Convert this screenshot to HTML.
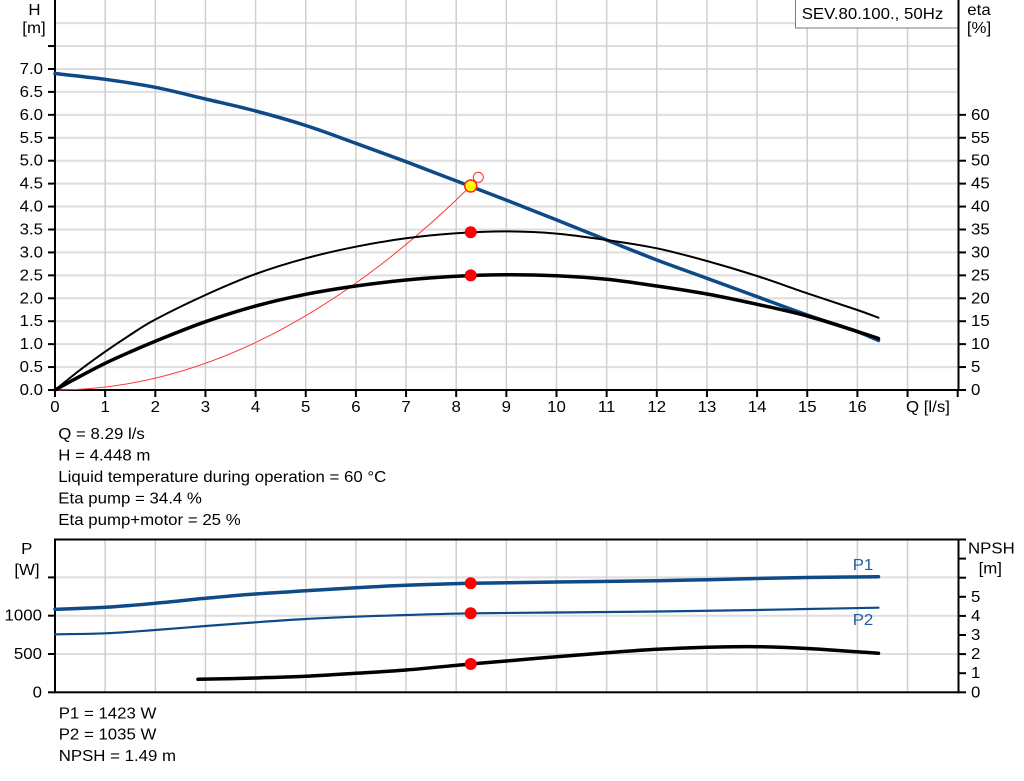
<!DOCTYPE html>
<html><head><meta charset="utf-8">
<style>
html,body{margin:0;padding:0;background:#fff;}
svg{display:block;}
text{font-family:"Liberation Sans",Arial,sans-serif;font-size:15.3px;fill:#000;transform-box:fill-box;}
.l{transform-origin:left center;transform:scaleX(1.1);}
.r{transform-origin:right center;transform:scaleX(1.1);}
.c{transform-origin:center center;transform:scaleX(1.1);}
.gh{stroke:#dedede;stroke-width:2;}
.gv{stroke:#cfcfcf;stroke-width:1.5;}
.ax{stroke:#000;stroke-width:2;fill:none;}
.tk{stroke:#000;stroke-width:2;}
</style></head>
<body>
<svg id="chart" width="1024" height="781" viewBox="0 0 1024 781" xmlns="http://www.w3.org/2000/svg">
<rect x="0" y="0" width="1024" height="781" fill="#fff"/>

<!-- ===== TOP CHART GRID ===== -->
<g class="gh">
<line x1="55" x2="958" y1="367.07" y2="367.07"/>
<line x1="55" x2="958" y1="344.14" y2="344.14"/>
<line x1="55" x2="958" y1="321.21" y2="321.21"/>
<line x1="55" x2="958" y1="298.28" y2="298.28"/>
<line x1="55" x2="958" y1="275.35" y2="275.35"/>
<line x1="55" x2="958" y1="252.42" y2="252.42"/>
<line x1="55" x2="958" y1="229.49" y2="229.49"/>
<line x1="55" x2="958" y1="206.56" y2="206.56"/>
<line x1="55" x2="958" y1="183.63" y2="183.63"/>
<line x1="55" x2="958" y1="160.7" y2="160.7"/>
<line x1="55" x2="958" y1="137.77" y2="137.77"/>
<line x1="55" x2="958" y1="114.84" y2="114.84"/>
<line x1="55" x2="958" y1="91.91" y2="91.91"/>
<line x1="55" x2="958" y1="68.98" y2="68.98"/>
<line x1="55" x2="958" y1="46.05" y2="46.05"/>
<line x1="55" x2="958" y1="23.12" y2="23.12"/>
</g>
<g class="gv">
<line y1="0" y2="390" x1="105.15" x2="105.15"/>
<line y1="0" y2="390" x1="155.3" x2="155.3"/>
<line y1="0" y2="390" x1="205.45" x2="205.45"/>
<line y1="0" y2="390" x1="255.6" x2="255.6"/>
<line y1="0" y2="390" x1="305.75" x2="305.75"/>
<line y1="0" y2="390" x1="355.9" x2="355.9"/>
<line y1="0" y2="390" x1="406.05" x2="406.05"/>
<line y1="0" y2="390" x1="456.2" x2="456.2"/>
<line y1="0" y2="390" x1="506.35" x2="506.35"/>
<line y1="0" y2="390" x1="556.5" x2="556.5"/>
<line y1="0" y2="390" x1="606.65" x2="606.65"/>
<line y1="0" y2="390" x1="656.8" x2="656.8"/>
<line y1="0" y2="390" x1="706.95" x2="706.95"/>
<line y1="0" y2="390" x1="757.1" x2="757.1"/>
<line y1="0" y2="390" x1="807.25" x2="807.25"/>
<line y1="0" y2="390" x1="857.4" x2="857.4"/>
<line y1="0" y2="390" x1="907.55" x2="907.55"/>
</g>

<!-- legend box -->
<rect x="795.5" y="-1" width="163" height="29" fill="#fff" stroke="#7a7a7a" stroke-width="1"/>
<text class="l" x="801.7" y="19">SEV.80.100., 50Hz</text>

<!-- top axes -->
<line class="ax" x1="55" y1="0" x2="55" y2="391"/>
<line class="ax" x1="958.5" y1="0" x2="958.5" y2="391"/>
<line class="ax" x1="54" y1="390" x2="959.5" y2="390"/>

<!-- left ticks -->
<g class="tk">
<line x1="48" x2="55" y1="390" y2="390"/>
<line x1="48" x2="55" y1="367.07" y2="367.07"/>
<line x1="48" x2="55" y1="344.14" y2="344.14"/>
<line x1="48" x2="55" y1="321.21" y2="321.21"/>
<line x1="48" x2="55" y1="298.28" y2="298.28"/>
<line x1="48" x2="55" y1="275.35" y2="275.35"/>
<line x1="48" x2="55" y1="252.42" y2="252.42"/>
<line x1="48" x2="55" y1="229.49" y2="229.49"/>
<line x1="48" x2="55" y1="206.56" y2="206.56"/>
<line x1="48" x2="55" y1="183.63" y2="183.63"/>
<line x1="48" x2="55" y1="160.7" y2="160.7"/>
<line x1="48" x2="55" y1="137.77" y2="137.77"/>
<line x1="48" x2="55" y1="114.84" y2="114.84"/>
<line x1="48" x2="55" y1="91.91" y2="91.91"/>
<line x1="48" x2="55" y1="68.98" y2="68.98"/>
<line x1="48" x2="55" y1="46.05" y2="46.05"/>
</g>
<g>
<text class="r" x="43" y="395" text-anchor="end">0.0</text>
<text class="r" x="43" y="372.07" text-anchor="end">0.5</text>
<text class="r" x="43" y="349.14" text-anchor="end">1.0</text>
<text class="r" x="43" y="326.21" text-anchor="end">1.5</text>
<text class="r" x="43" y="303.28" text-anchor="end">2.0</text>
<text class="r" x="43" y="280.35" text-anchor="end">2.5</text>
<text class="r" x="43" y="257.42" text-anchor="end">3.0</text>
<text class="r" x="43" y="234.49" text-anchor="end">3.5</text>
<text class="r" x="43" y="211.56" text-anchor="end">4.0</text>
<text class="r" x="43" y="188.63" text-anchor="end">4.5</text>
<text class="r" x="43" y="165.7" text-anchor="end">5.0</text>
<text class="r" x="43" y="142.77" text-anchor="end">5.5</text>
<text class="r" x="43" y="119.84" text-anchor="end">6.0</text>
<text class="r" x="43" y="96.91" text-anchor="end">6.5</text>
<text class="r" x="43" y="73.98" text-anchor="end">7.0</text>
</g>
<text class="c" x="34.5" y="15" text-anchor="middle">H</text>
<text class="c" x="34" y="33" text-anchor="middle">[m]</text>

<!-- right ticks (eta) -->
<g class="tk">
<line x1="958" x2="966" y1="390" y2="390"/>
<line x1="958" x2="966" y1="367.07" y2="367.07"/>
<line x1="958" x2="966" y1="344.14" y2="344.14"/>
<line x1="958" x2="966" y1="321.21" y2="321.21"/>
<line x1="958" x2="966" y1="298.28" y2="298.28"/>
<line x1="958" x2="966" y1="275.35" y2="275.35"/>
<line x1="958" x2="966" y1="252.42" y2="252.42"/>
<line x1="958" x2="966" y1="229.49" y2="229.49"/>
<line x1="958" x2="966" y1="206.56" y2="206.56"/>
<line x1="958" x2="966" y1="183.63" y2="183.63"/>
<line x1="958" x2="966" y1="160.7" y2="160.7"/>
<line x1="958" x2="966" y1="137.77" y2="137.77"/>
<line x1="958" x2="966" y1="114.84" y2="114.84"/>
</g>
<g>
<text class="l" x="971" y="395">0</text>
<text class="l" x="971" y="372.07">5</text>
<text class="l" x="971" y="349.14">10</text>
<text class="l" x="971" y="326.21">15</text>
<text class="l" x="971" y="303.28">20</text>
<text class="l" x="971" y="280.35">25</text>
<text class="l" x="971" y="257.42">30</text>
<text class="l" x="971" y="234.49">35</text>
<text class="l" x="971" y="211.56">40</text>
<text class="l" x="971" y="188.63">45</text>
<text class="l" x="971" y="165.7">50</text>
<text class="l" x="971" y="142.77">55</text>
<text class="l" x="971" y="119.84">60</text>
</g>
<text class="c" x="979" y="15" text-anchor="middle">eta</text>
<text class="c" x="979" y="33" text-anchor="middle">[%]</text>

<!-- x ticks -->
<g class="tk">
<line y1="390" y2="397" x1="55" x2="55"/>
<line y1="390" y2="397" x1="105.15" x2="105.15"/>
<line y1="390" y2="397" x1="155.3" x2="155.3"/>
<line y1="390" y2="397" x1="205.45" x2="205.45"/>
<line y1="390" y2="397" x1="255.6" x2="255.6"/>
<line y1="390" y2="397" x1="305.75" x2="305.75"/>
<line y1="390" y2="397" x1="355.9" x2="355.9"/>
<line y1="390" y2="397" x1="406.05" x2="406.05"/>
<line y1="390" y2="397" x1="456.2" x2="456.2"/>
<line y1="390" y2="397" x1="506.35" x2="506.35"/>
<line y1="390" y2="397" x1="556.5" x2="556.5"/>
<line y1="390" y2="397" x1="606.65" x2="606.65"/>
<line y1="390" y2="397" x1="656.8" x2="656.8"/>
<line y1="390" y2="397" x1="706.95" x2="706.95"/>
<line y1="390" y2="397" x1="757.1" x2="757.1"/>
<line y1="390" y2="397" x1="807.25" x2="807.25"/>
<line y1="390" y2="397" x1="857.4" x2="857.4"/>
<line y1="390" y2="397" x1="907.55" x2="907.55"/>
<line y1="390" y2="397" x1="957.7" x2="957.7"/>
</g>
<g>
<text class="c" x="55" y="412" text-anchor="middle">0</text>
<text class="c" x="105.15" y="412" text-anchor="middle">1</text>
<text class="c" x="155.3" y="412" text-anchor="middle">2</text>
<text class="c" x="205.45" y="412" text-anchor="middle">3</text>
<text class="c" x="255.6" y="412" text-anchor="middle">4</text>
<text class="c" x="305.75" y="412" text-anchor="middle">5</text>
<text class="c" x="355.9" y="412" text-anchor="middle">6</text>
<text class="c" x="406.05" y="412" text-anchor="middle">7</text>
<text class="c" x="456.2" y="412" text-anchor="middle">8</text>
<text class="c" x="506.35" y="412" text-anchor="middle">9</text>
<text class="c" x="556.5" y="412" text-anchor="middle">10</text>
<text class="c" x="606.65" y="412" text-anchor="middle">11</text>
<text class="c" x="656.8" y="412" text-anchor="middle">12</text>
<text class="c" x="706.95" y="412" text-anchor="middle">13</text>
<text class="c" x="757.1" y="412" text-anchor="middle">14</text>
<text class="c" x="807.25" y="412" text-anchor="middle">15</text>
<text class="c" x="857.4" y="412" text-anchor="middle">16</text>
</g>
<text class="l" x="906" y="412">Q [l/s]</text>

<!-- top curves -->
<path d="M55,390 Q262.85,390 470.7,186" fill="none" stroke="#ff3a3a" stroke-width="1"/>
<polyline class="sm" fill="none" stroke="#0d4a87" stroke-width="3.5" stroke-linejoin="round" stroke-linecap="round"
 points="55,73.5 105.15,79.3 155.3,87.3 205.45,99 255.6,111 305.75,125.5 355.9,143.3 406.05,161.7 456.2,180.9 506.35,200.1 556.5,219.9 606.65,240 656.8,260 706.95,278.3 757.1,296.7 807.25,315 857.4,331.7 878.5,340.5"/>
<polyline class="sm" fill="none" stroke="#000" stroke-width="2" stroke-linejoin="round" stroke-linecap="round"
 points="55,390 80,370 105.15,351.7 130,335 155.3,319.5 205.45,295 255.6,274 305.75,258.3 355.9,246.7 406.05,238.3 456.2,233.3 506.35,231.4 556.5,233.6 606.65,240 656.8,248.3 706.95,261 757.1,276 807.25,293.3 857.4,310 878.5,317.7"/>
<polyline class="sm" fill="none" stroke="#000" stroke-width="3.5" stroke-linejoin="round" stroke-linecap="round"
 points="55,390 80,376.3 105.15,363.3 130,352 155.3,341.2 205.45,321.7 255.6,306 305.75,294.3 355.9,286 406.05,280 456.2,276.3 506.35,274.8 556.5,275.8 606.65,279.3 656.8,286 706.95,294 757.1,304.3 807.25,316 857.4,331.5 878.5,338.5"/>
<circle cx="478.3" cy="177.3" r="5" fill="none" stroke="#ff3030" stroke-width="1"/>
<circle cx="470.7" cy="186" r="6" fill="#ffff00" stroke="#ff2020" stroke-width="1.5"/>
<circle cx="470.7" cy="232.2" r="6" fill="#ff0000"/>
<circle cx="470.7" cy="275.4" r="6" fill="#ff0000"/>

<!-- info text -->
<text class="l" x="58.3" y="439">Q = 8.29 l/s</text>
<text class="l" x="58.3" y="460.5">H = 4.448 m</text>
<text class="l" x="58.3" y="482">Liquid temperature during operation = 60 °C</text>
<text class="l" x="58.3" y="503.5">Eta pump = 34.4 %</text>
<text class="l" x="58.3" y="525">Eta pump+motor = 25 %</text>

<!-- ===== BOTTOM CHART ===== -->
<g class="gh">
<line x1="55" x2="958" y1="654" y2="654"/>
<line x1="55" x2="958" y1="615.7" y2="615.7"/>
<line x1="55" x2="958" y1="577.4" y2="577.4"/>
</g>
<g class="gv">
<line y1="540" y2="692" x1="105.15" x2="105.15"/>
<line y1="540" y2="692" x1="155.3" x2="155.3"/>
<line y1="540" y2="692" x1="205.45" x2="205.45"/>
<line y1="540" y2="692" x1="255.6" x2="255.6"/>
<line y1="540" y2="692" x1="305.75" x2="305.75"/>
<line y1="540" y2="692" x1="355.9" x2="355.9"/>
<line y1="540" y2="692" x1="406.05" x2="406.05"/>
<line y1="540" y2="692" x1="456.2" x2="456.2"/>
<line y1="540" y2="692" x1="506.35" x2="506.35"/>
<line y1="540" y2="692" x1="556.5" x2="556.5"/>
<line y1="540" y2="692" x1="606.65" x2="606.65"/>
<line y1="540" y2="692" x1="656.8" x2="656.8"/>
<line y1="540" y2="692" x1="706.95" x2="706.95"/>
<line y1="540" y2="692" x1="757.1" x2="757.1"/>
<line y1="540" y2="692" x1="807.25" x2="807.25"/>
<line y1="540" y2="692" x1="857.4" x2="857.4"/>
<line y1="540" y2="692" x1="907.55" x2="907.55"/>
</g>
<rect class="ax" x="55" y="539.5" width="903.5" height="152.8"/>

<g class="tk">
<line x1="48" x2="55" y1="692.3" y2="692.3"/>
<line x1="48" x2="55" y1="654" y2="654"/>
<line x1="48" x2="55" y1="615.7" y2="615.7"/>
<line x1="48" x2="55" y1="577.4" y2="577.4"/>
<line x1="958" x2="966" y1="692.3" y2="692.3"/>
<line x1="958" x2="966" y1="673.2" y2="673.2"/>
<line x1="958" x2="966" y1="654.1" y2="654.1"/>
<line x1="958" x2="966" y1="635" y2="635"/>
<line x1="958" x2="966" y1="615.9" y2="615.9"/>
<line x1="958" x2="966" y1="596.8" y2="596.8"/>
<line x1="958" x2="966" y1="577.7" y2="577.7"/>
<line x1="958" x2="966" y1="558.6" y2="558.6"/>
<line x1="958" x2="966" y1="539.5" y2="539.5"/>
</g>
<text class="r" x="42" y="697.3" text-anchor="end">0</text>
<text class="r" x="42" y="659" text-anchor="end">500</text>
<text class="r" x="42" y="620.7" text-anchor="end">1000</text>
<text class="c" x="26.7" y="554" text-anchor="middle">P</text>
<text class="c" x="27" y="575" text-anchor="middle">[W]</text>

<text class="l" x="971" y="697.3">0</text>
<text class="l" x="971" y="678.2">1</text>
<text class="l" x="971" y="659.1">2</text>
<text class="l" x="971" y="640">3</text>
<text class="l" x="971" y="620.9">4</text>
<text class="l" x="971" y="601.8">5</text>
<text class="l" x="968" y="553.3">NPSH</text>
<text class="c" x="990.3" y="573.3" text-anchor="middle">[m]</text>

<!-- bottom curves -->
<polyline class="sm" fill="none" stroke="#0d4a87" stroke-width="3.5" stroke-linejoin="round" stroke-linecap="round"
 points="55,609.3 105.15,607.3 155.3,603.3 205.45,598.3 255.6,594 305.75,590.8 355.9,587.7 406.05,585.3 470.7,583.3 556.5,582 656.8,580.7 706.95,579.7 757.1,578.5 807.25,577.5 878.5,576.7"/>
<polyline class="sm" fill="none" stroke="#0d4a87" stroke-width="2.2" stroke-linejoin="round" stroke-linecap="round"
 points="55,634.3 105.15,633.3 155.3,630 205.45,626 255.6,622.3 305.75,619 355.9,616.7 406.05,615 470.7,613.3 556.5,612.5 656.8,611.5 757.1,610 807.25,609 878.5,607.7"/>
<polyline class="sm" fill="none" stroke="#000" stroke-width="3.5" stroke-linejoin="round" stroke-linecap="round"
 points="198,679.3 255.6,678 305.75,676.3 355.9,673.3 406.05,670 470.7,664 506.35,661 556.5,656.7 606.65,652.7 656.8,649.3 706.95,647.3 757.1,646.7 807.25,648.5 878.5,653.3"/>
<circle cx="470.7" cy="583.3" r="6" fill="#ff0000"/>
<circle cx="470.7" cy="613.3" r="6" fill="#ff0000"/>
<circle cx="470.7" cy="664" r="6" fill="#ff0000"/>
<text class="l" x="852.7" y="570" style="fill:#1f5c9c">P1</text>
<text class="l" x="852.7" y="625" style="fill:#1f5c9c">P2</text>

<text class="l" x="58.7" y="718.3">P1 = 1423 W</text>
<text class="l" x="58.7" y="739.3">P2 = 1035 W</text>
<text class="l" x="58.7" y="761">NPSH = 1.49 m</text>
</svg>
<script>
(function(){
  var ns="http://www.w3.org/2000/svg";
  var pls=document.querySelectorAll("polyline.sm");
  for(var i=0;i<pls.length;i++){
    var pl=pls[i];
    var raw=pl.getAttribute("points").trim().split(/\s+/);
    var p=[];
    for(var j=0;j<raw.length;j++){var c=raw[j].split(",");p.push([parseFloat(c[0]),parseFloat(c[1])]);}
    if(p.length<3)continue;
    var d="M"+p[0][0]+","+p[0][1];
    for(var k=0;k<p.length-1;k++){
      var p0=p[k>0?k-1:0],p1=p[k],p2=p[k+1],p3=p[k+2<p.length?k+2:p.length-1];
      var t=6;
      var c1x=p1[0]+(p2[0]-p0[0])/t,c1y=p1[1]+(p2[1]-p0[1])/t;
      var c2x=p2[0]-(p3[0]-p1[0])/t,c2y=p2[1]-(p3[1]-p1[1])/t;
      d+=" C"+c1x.toFixed(2)+","+c1y.toFixed(2)+" "+c2x.toFixed(2)+","+c2y.toFixed(2)+" "+p2[0]+","+p2[1];
    }
    var path=document.createElementNS(ns,"path");
    path.setAttribute("d",d);
    ["fill","stroke","stroke-width","stroke-linejoin","stroke-linecap"].forEach(function(a){
      if(pl.getAttribute(a)!==null)path.setAttribute(a,pl.getAttribute(a));
    });
    pl.parentNode.replaceChild(path,pl);
  }
})();
</script>
</body></html>
